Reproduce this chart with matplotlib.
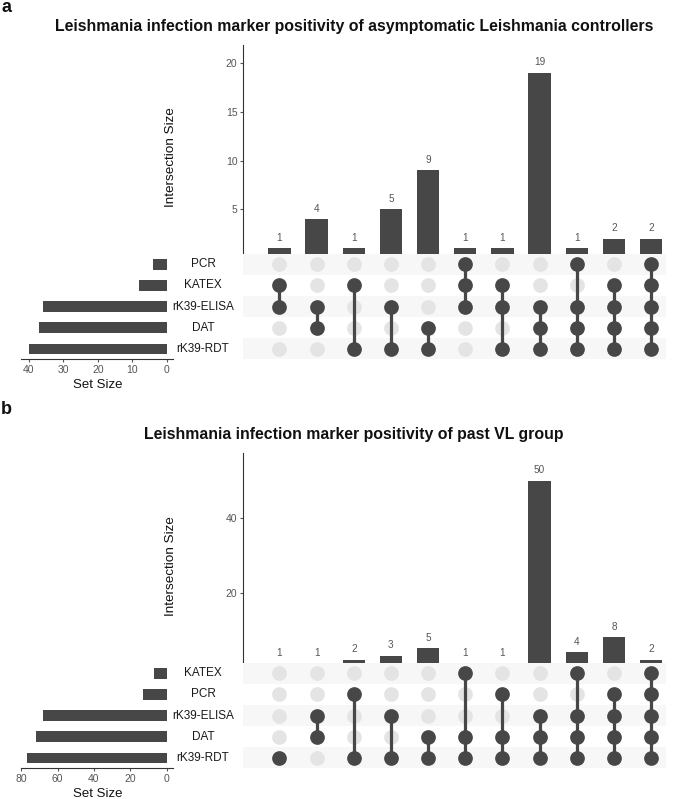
import matplotlib
matplotlib.use('Agg')
import matplotlib.pyplot as plt
import numpy as np

plt.rcParams['font.family'] = ['Liberation Sans', 'DejaVu Sans']

# panel a: asymptomatic controllers
sets_a = ['PCR', 'KATEX', 'rK39-ELISA', 'DAT', 'rK39-RDT']
set_sizes_a = [4, 8, 36, 37, 40]
combos_a = [
    ['KATEX', 'rK39-ELISA'],
    ['rK39-ELISA', 'DAT'],
    ['KATEX', 'rK39-RDT'],
    ['rK39-ELISA', 'rK39-RDT'],
    ['DAT', 'rK39-RDT'],
    ['PCR', 'KATEX', 'rK39-ELISA'],
    ['KATEX', 'rK39-ELISA', 'rK39-RDT'],
    ['rK39-ELISA', 'DAT', 'rK39-RDT'],
    ['PCR', 'rK39-ELISA', 'DAT', 'rK39-RDT'],
    ['KATEX', 'rK39-ELISA', 'DAT', 'rK39-RDT'],
    ['PCR', 'KATEX', 'rK39-ELISA', 'DAT', 'rK39-RDT'],
]
counts_a = [1, 4, 1, 5, 9, 1, 1, 19, 1, 2, 2]
yticks_a = [0, 5, 10, 15, 20]
sticks_a = [40, 30, 20, 10, 0]
title_a = 'Leishmania infection marker positivity of asymptomatic Leishmania controllers'

# panel b: past VL group
sets_b = ['KATEX', 'PCR', 'rK39-ELISA', 'DAT', 'rK39-RDT']
set_sizes_b = [7, 13, 68, 72, 77]
combos_b = [
    ['rK39-RDT'],
    ['rK39-ELISA', 'DAT'],
    ['PCR', 'rK39-RDT'],
    ['rK39-ELISA', 'rK39-RDT'],
    ['DAT', 'rK39-RDT'],
    ['KATEX', 'DAT', 'rK39-RDT'],
    ['PCR', 'DAT', 'rK39-RDT'],
    ['rK39-ELISA', 'DAT', 'rK39-RDT'],
    ['KATEX', 'rK39-ELISA', 'DAT', 'rK39-RDT'],
    ['PCR', 'rK39-ELISA', 'DAT', 'rK39-RDT'],
    ['KATEX', 'PCR', 'rK39-ELISA', 'DAT', 'rK39-RDT'],
]
counts_b = [1, 1, 2, 3, 5, 1, 1, 50, 4, 8, 2]
yticks_b = [0, 20, 40]
sticks_b = [80, 60, 40, 20, 0]
title_b = 'Leishmania infection marker positivity of past VL group'

W, H = 688, 799
DARK = '#474747'
EMPTY = '#E4E4E4'
STRIPE = '#F7F7F7'
TICKC = '#555555'

fig = plt.figure(figsize=(W / 100, H / 100), dpi=100)


def px_axes(x0, y0, x1, y1, z=1):
    # pixel box (top-left origin) -> figure axes
    return fig.add_axes([x0 / W, 1 - y1 / H, (x1 - x0) / W, (y1 - y0) / H], zorder=z)


def upset(top, zero, mat_top, sets, sizes, combos, counts, yticks, sticks, smax, title, letter, letter_y):
    row_h = 21.15
    mat_bot = mat_top + row_h * len(sets)
    n = len(counts)

    # intersection bars
    bax = px_axes(243, top, 666, zero, z=1)
    x = np.arange(n)
    bax.bar(x, counts, width=0.6, color=DARK)
    for xi, c in zip(x, counts):
        bax.annotate(str(c), (xi, c), xytext=(0, 7.5), textcoords='offset points',
                     ha='center', va='center', fontsize=7.2, color=TICKC)
    bax.set_xlim(-0.98, 10.4)
    bax.set_ylim(0, max(counts) * 1.15)
    bax.set_yticks(yticks)
    bax.tick_params(axis='y', labelsize=7.5, colors=TICKC, length=2.5, width=0.8, pad=1.5)
    bax.set_xticks([])
    for s in ['top', 'right', 'bottom']:
        bax.spines[s].set_visible(False)
    bax.spines['left'].set_color('#333333')
    bax.spines['left'].set_linewidth(0.8)
    bax.set_facecolor('none')
    mid = (zero + top) / 2 + 6
    fig.text(170.6 / W, 1 - mid / H, 'Intersection Size', rotation=90,
             ha='center', va='center', fontsize=9.7, color='#111111')

    # matrix
    max_ = px_axes(243, mat_top, 666, mat_bot, z=3)
    max_.set_facecolor('white')
    for r in range(len(sets)):
        if r % 2 == 0:
            max_.axhspan(r - 0.5, r + 0.5, color=STRIPE, lw=0, zorder=0)
    for xi, combo in enumerate(combos):
        rows = [sets.index(s) for s in combo]
        for r in range(len(sets)):
            if r not in rows:
                max_.plot(xi, r, 'o', ms=10.6, color=EMPTY, mec='none', zorder=1)
        if len(rows) > 1:
            max_.plot([xi, xi], [min(rows), max(rows)], color=DARK, lw=2.3, zorder=2)
        max_.plot([xi] * len(rows), rows, 'o', ms=10.6, color=DARK, mec='none', zorder=3)
    max_.set_xlim(-0.98, 10.4)
    max_.set_ylim(len(sets) - 0.5, -0.5)
    max_.axis('off')
    max_.patch.set_visible(True)

    # set labels
    lax = px_axes(173, mat_top, 243, mat_bot, z=3)
    lax.set_facecolor('white')
    lax.set_xlim(0, 1)
    lax.set_ylim(len(sets) - 0.5, -0.5)
    for r, s in enumerate(sets):
        lax.text(0.43, r, s, ha='center', va='center', fontsize=8.5, color='#1a1a1a')
    lax.set_xticks([])
    lax.set_yticks([])
    for s in lax.spines.values():
        s.set_visible(False)

    # set sizes
    sax = px_axes(21, mat_top, 173, mat_bot, z=3)
    sax.barh(np.arange(len(sets)), sizes, height=0.5, color=DARK)
    sax.set_ylim(len(sets) - 0.5, -0.5)
    sax.set_xlim(smax, -(smax * 0.044))
    sax.set_xticks(sticks)
    sax.set_yticks([])
    sax.tick_params(axis='x', labelsize=7.5, colors=TICKC, length=2.5, width=0.8, pad=1.5)
    for s in ['top', 'right', 'left']:
        sax.spines[s].set_visible(False)
    sax.spines['bottom'].set_color('#333333')
    sax.spines['bottom'].set_linewidth(0.8)
    sax.set_facecolor('none')
    fig.text(97.5 / W, 1 - (mat_bot + 25.5) / H, 'Set Size', ha='center', va='center',
             fontsize=9.5, color='#111111')

    fig.text(354 / W, 1 - (top - 18) / H, title, ha='center', va='center',
             fontsize=11.4, fontweight='bold', color='#111111')
    fig.text(1 / W, 1 - letter_y / H, letter, ha='left', va='center',
             fontsize=13, fontweight='bold', color='#111111')


upset(45, 258, 253.7, sets_a, set_sizes_a, combos_a, counts_a, yticks_a, sticks_a, 42.3,
      title_a, 'a', 8)
upset(453, 667, 662.7, sets_b, set_sizes_b, combos_b, counts_b, yticks_b, sticks_b, 80.2,
      title_b, 'b', 409)

fig.savefig('out.png', dpi=100)
